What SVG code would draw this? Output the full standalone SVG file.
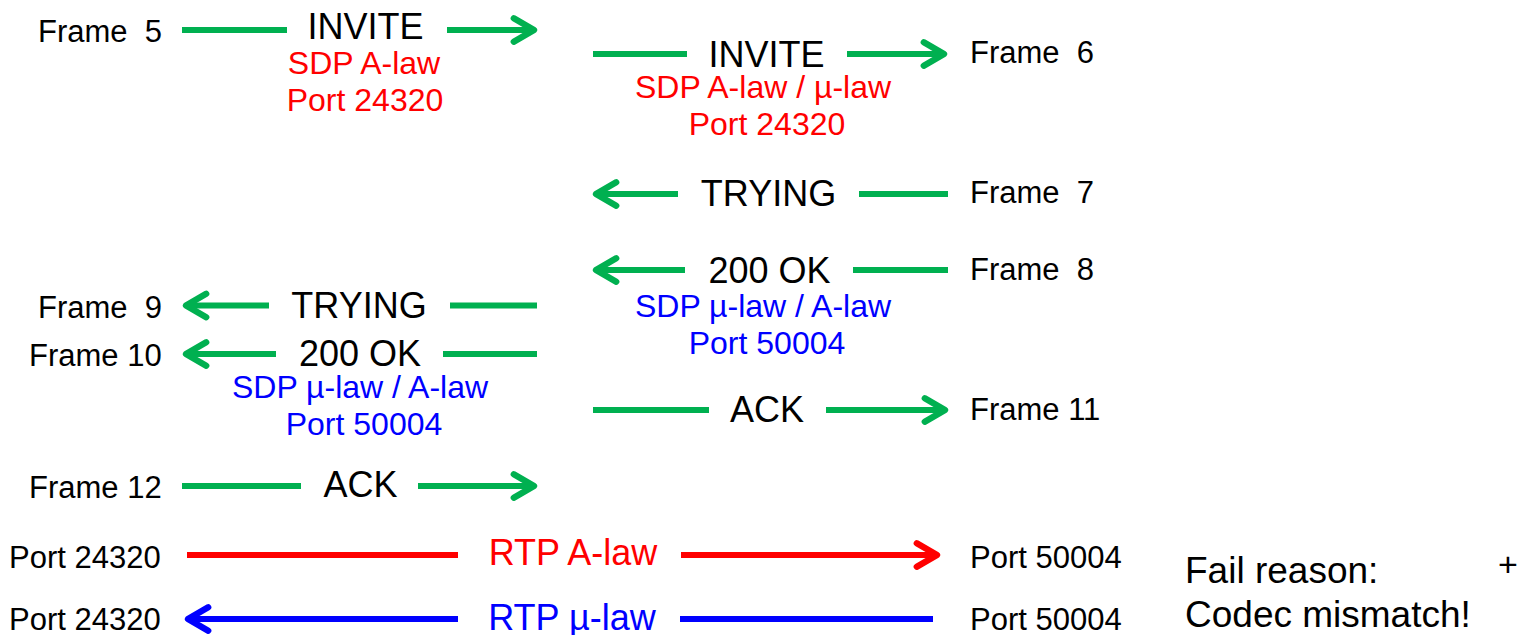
<svg xmlns="http://www.w3.org/2000/svg" width="1522" height="635" viewBox="0 0 1522 635">
<defs>
<style>
text{font-family:"Liberation Sans",Arial,sans-serif;}
.fr{font-size:31px;fill:#000;}
.msg{font-size:36px;fill:#000;text-anchor:middle;}
.sdpr{font-size:32px;fill:#FF0000;text-anchor:middle;}
.sdpb{font-size:32px;fill:#0000FF;text-anchor:middle;}
.g{stroke:#00B050;stroke-width:6;fill:none;}
.r{stroke:#FF0000;stroke-width:6;fill:none;}
.b{stroke:#0000FF;stroke-width:6;fill:none;}
.fail{font-size:37px;fill:#000;}
</style>
<marker id="ag" markerUnits="userSpaceOnUse" markerWidth="30" markerHeight="34" viewBox="-24 -16 28 32" refX="0" refY="0" orient="auto">
<path d="M-19,-11 L0,0 L-19,11" fill="none" stroke="#00B050" stroke-width="6" stroke-linecap="round" stroke-linejoin="round"/>
</marker>
<marker id="ar" markerUnits="userSpaceOnUse" markerWidth="30" markerHeight="34" viewBox="-24 -16 28 32" refX="0" refY="0" orient="auto">
<path d="M-19,-11 L0,0 L-19,11" fill="none" stroke="#FF0000" stroke-width="6" stroke-linecap="round" stroke-linejoin="round"/>
</marker>
<marker id="ab" markerUnits="userSpaceOnUse" markerWidth="30" markerHeight="34" viewBox="-24 -16 28 32" refX="0" refY="0" orient="auto">
<path d="M-19,-11 L0,0 L-19,11" fill="none" stroke="#0000FF" stroke-width="6" stroke-linecap="round" stroke-linejoin="round"/>
</marker>
</defs>
<rect width="1522" height="635" fill="#fff"/>

<g id="connectors">
<line class="g" x1="182" y1="30" x2="287" y2="30"/>
<line class="g" x1="447" y1="30" x2="534" y2="30" marker-end="url(#ag)"/>
<line class="g" x1="593" y1="54" x2="687" y2="54"/>
<line class="g" x1="847" y1="54" x2="944" y2="54" marker-end="url(#ag)"/>
<line class="g" x1="678" y1="194" x2="596" y2="194" marker-end="url(#ag)"/>
<line class="g" x1="859" y1="194" x2="948" y2="194"/>
<line class="g" x1="685" y1="270" x2="596" y2="270" marker-end="url(#ag)"/>
<line class="g" x1="853" y1="270" x2="948" y2="270"/>
<line class="g" x1="269" y1="305.5" x2="186" y2="305.5" marker-end="url(#ag)"/>
<line class="g" x1="450" y1="305.5" x2="537" y2="305.5"/>
<line class="g" x1="276" y1="354" x2="186" y2="354" marker-end="url(#ag)"/>
<line class="g" x1="443" y1="354" x2="537" y2="354"/>
<line class="g" x1="593" y1="410" x2="709" y2="410"/>
<line class="g" x1="826" y1="410" x2="945" y2="410" marker-end="url(#ag)"/>
<line class="g" x1="182" y1="486" x2="301" y2="486"/>
<line class="g" x1="418" y1="486" x2="534" y2="486" marker-end="url(#ag)"/>
<line class="r" x1="187" y1="555" x2="458" y2="555"/>
<line class="r" x1="681" y1="555" x2="937" y2="555" marker-end="url(#ar)"/>
<line class="b" x1="458" y1="619" x2="188" y2="619" marker-end="url(#ab)"/>
<line class="b" x1="680" y1="619" x2="933" y2="619"/>
</g>

<g id="frame5">
<text class="fr" x="38" y="42" xml:space="preserve">Frame  5</text>
<text class="msg" x="365.5" y="38.5">INVITE</text>
<text class="sdpr" x="364" y="74">SDP A-law</text>
<text class="sdpr" x="365" y="111">Port 24320</text>
</g>
<g id="frame6">
<text class="msg" x="766.5" y="67">INVITE</text>
<text class="fr" x="970" y="63" xml:space="preserve">Frame  6</text>
<text class="sdpr" x="763" y="98">SDP A-law / µ-law</text>
<text class="sdpr" x="767" y="135">Port 24320</text>
</g>
<g id="frame7">
<text class="msg" x="768.5" y="206">TRYING</text>
<text class="fr" x="970" y="203" xml:space="preserve">Frame  7</text>
</g>
<g id="frame8">
<text class="msg" x="769.5" y="282.5">200 OK</text>
<text class="fr" x="970" y="280" xml:space="preserve">Frame  8</text>
<text class="sdpb" x="763" y="317">SDP µ-law / A-law</text>
<text class="sdpb" x="767" y="354">Port 50004</text>
</g>
<g id="frame9">
<text class="fr" x="38" y="318" xml:space="preserve">Frame  9</text>
<text class="msg" x="359" y="318">TRYING</text>
</g>
<g id="frame10">
<text class="fr" x="29" y="366">Frame 10</text>
<text class="msg" x="360" y="366">200 OK</text>
<text class="sdpb" x="360" y="398">SDP µ-law / A-law</text>
<text class="sdpb" x="364" y="435">Port 50004</text>
</g>
<g id="frame11">
<text class="msg" x="767" y="422">ACK</text>
<text class="fr" x="970" y="420">Frame 11</text>
</g>
<g id="frame12">
<text class="fr" x="29" y="498">Frame 12</text>
<text class="msg" x="360.5" y="497">ACK</text>
</g>
<g id="rtp-alaw">
<text class="fr" x="9" y="568">Port 24320</text>
<text class="msg" x="573" y="565" style="fill:#FF0000">RTP A-law</text>
<text class="fr" x="970" y="568">Port 50004</text>
</g>
<g id="rtp-ulaw">
<text class="fr" x="9" y="630">Port 24320</text>
<text class="msg" x="572" y="630" style="fill:#0000FF">RTP µ-law</text>
<text class="fr" x="970" y="630">Port 50004</text>
</g>
<g id="fail">
<text class="fail" x="1185" y="583">Fail reason:</text>
<text class="fail" x="1498" y="576" style="font-size:34px">+</text>
<text class="fail" x="1185" y="627">Codec mismatch!</text>
</g>
</svg>
